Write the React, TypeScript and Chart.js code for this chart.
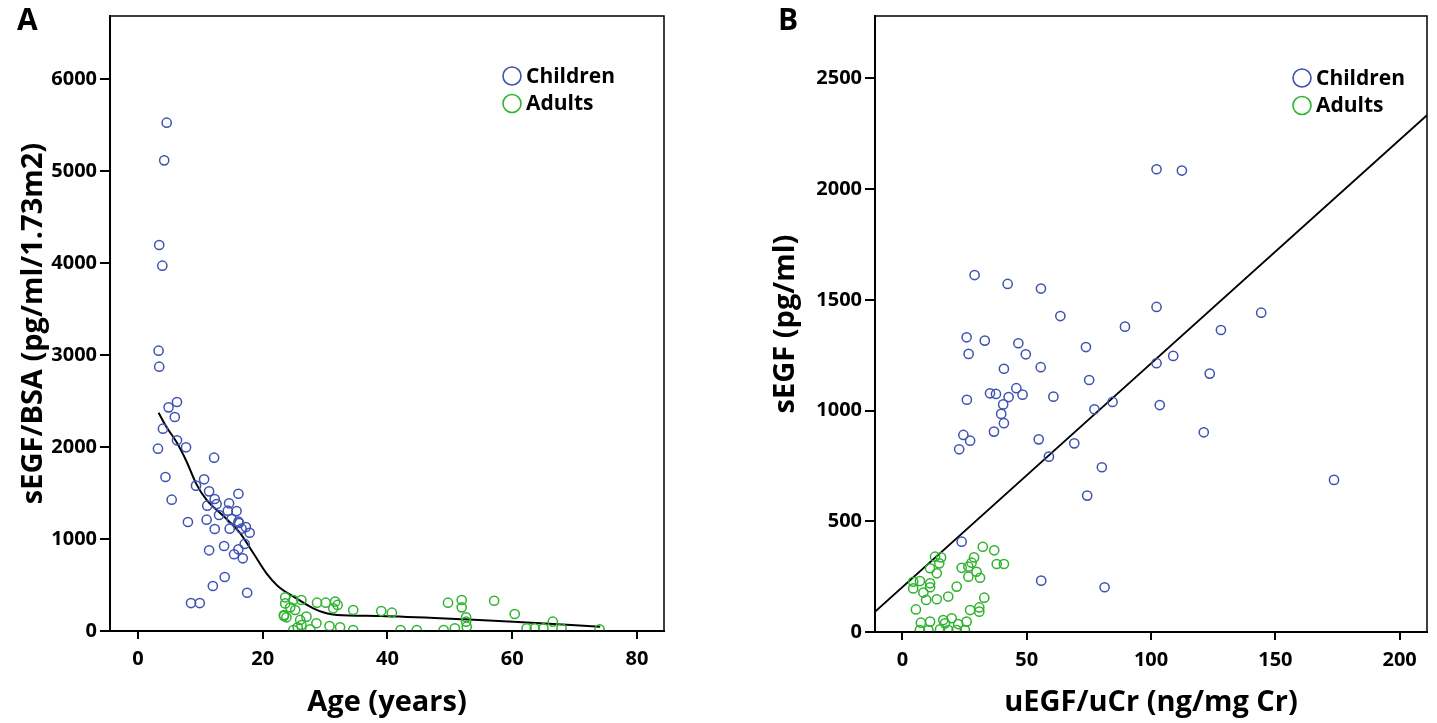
import React, { useEffect, useRef } from "react";
import { Chart, registerables } from "chart.js";

Chart.register(...registerables);

// ---------- Panel A data ----------
const childAge = [4.6, 4.2, 3.4, 3.9, 3.3, 3.4, 6.25, 4.9, 5.9, 4.0, 6.25, 7.7, 3.2, 12.2, 4.4, 10.6, 9.3, 11.4, 16.1, 12.3, 5.4, 11.1, 12.6, 14.6, 14.4, 15.8, 13.0, 15.0, 8.0, 11.0, 16.1, 17.3, 17.9, 16.6, 14.7, 12.3, 16.2, 13.8, 17.1, 11.4, 16.1, 15.4, 16.8, 13.9, 12.0, 17.5, 8.5, 9.9];
const childSEGFBSA = [5525, 5116, 4196, 3971, 3047, 2873, 2489, 2431, 2326, 2199, 2073, 1997, 1982, 1884, 1674, 1649, 1580, 1518, 1492, 1435, 1427, 1362, 1380, 1388, 1308, 1304, 1261, 1217, 1185, 1210, 1188, 1130, 1068, 1112, 1112, 1109, 1174, 924, 946, 877, 888, 834, 790, 587, 489, 416, 304, 304];
const adultAge = [23.6, 24.9, 26.2, 23.6, 24.4, 25.2, 23.4, 23.8, 26.0, 27.0, 28.6, 26.2, 24.9, 27.6, 28.7, 30.1, 31.6, 32.0, 31.3, 30.7, 32.4, 34.5, 34.5, 39.0, 40.7, 42.1, 44.7, 49.0, 50.8, 49.7, 51.9, 51.9, 52.6, 52.6, 52.7, 57.1, 60.4, 62.3, 63.6, 65.0, 66.5, 67.9, 74.0, 23.4, 25.6];
const adultSEGFBSA = [366, 337, 337, 300, 257, 228, 174, 149, 120, 156, 84, 65, 11, 18, 308, 308, 319, 283, 247, 54, 40, 11, 228, 217, 199, 11, 11, 11, 29, 308, 337, 257, 149, 101, 47, 329, 185, 29, 29, 29, 101, 29, 18, 163, 40];
const fitAge = [3.3, 4.6, 6.2, 7.8, 9.3, 11.0, 13.7, 16.4, 18.5, 20.6, 22.4, 25.4, 28.1, 30.2, 31.9, 38.8, 52.2, 60.2, 74.1];
const fitSEGFBSA = [2373, 2214, 2051, 1840, 1605, 1424, 1250, 1062, 845, 627, 490, 355, 247, 192, 174, 163, 127, 101, 47];
const ageTicks = [0, 20, 40, 60, 80];
const segfBsaTicks = [0, 1000, 2000, 3000, 4000, 5000, 6000];

// ---------- Panel B data ----------
const childUEGF = [29.0, 42.3, 55.7, 63.5, 102.2, 89.5, 25.8, 33.1, 46.6, 26.6, 49.6, 73.8, 40.8, 55.6, 102.2, 75.1, 25.9, 35.2, 37.6, 45.8, 42.7, 48.3, 40.5, 60.7, 39.7, 40.8, 36.8, 77.2, 84.5, 103.5, 24.5, 27.2, 22.8, 54.8, 69.1, 58.9, 80.2, 74.3, 102.2, 112.4, 144.3, 128.1, 108.9, 123.6, 121.2, 173.6, 55.8, 81.3, 23.8];
const childSEGF = [1612, 1572, 1551, 1427, 1468, 1379, 1331, 1316, 1304, 1256, 1254, 1287, 1189, 1196, 1214, 1138, 1049, 1078, 1075, 1101, 1061, 1072, 1028, 1063, 985, 943, 905, 1006, 1039, 1025, 890, 864, 825, 870, 852, 792, 744, 616, 2090, 2084, 1442, 1364, 1247, 1167, 902, 687, 232, 202, 408];
const adultUEGF = [32.3, 36.9, 37.9, 40.8, 28.8, 27.8, 26.5, 23.8, 29.8, 31.2, 26.5, 21.8, 13.1, 15.5, 14.8, 11.1, 13.8, 7.0, 4.3, 11.1, 4.3, 11.1, 8.4, 9.5, 13.8, 18.4, 5.4, 32.9, 30.9, 27.2, 30.9, 7.4, 11.1, 16.4, 19.8, 22.4, 25.8, 7.0, 15.1, 18.4, 21.8, 25.1, 10.4, 17.1];
const adultSEGF = [385, 369, 307, 307, 337, 313, 295, 290, 272, 245, 250, 205, 340, 337, 310, 288, 265, 230, 227, 220, 197, 202, 178, 145, 148, 160, 102, 155, 111, 99, 92, 42, 47, 54, 62, 36, 47, 9, 12, 9, 9, 9, 9, 39];
const regUEGF = [-11, 211];
const regSEGF = [92, 2334];
const uegfTicks = [0, 50, 100, 150, 200];
const segfTicks = [0, 500, 1000, 1500, 2000, 2500];

const BLUE = "#3e52b2";
const GREEN = "#2fb32f";
const FONT = "'Open Sans', 'DejaVu Sans', sans-serif";

const toPts = (xs: number[], ys: number[]) => xs.map((x, i) => ({ x, y: ys[i] }));

const frameAndLegend = {
  id: "frameAndLegend",
  afterDraw(chart: any) {
    const { ctx, chartArea } = chart;
    const o = chart.options.plugins.frameAndLegend;
    ctx.save();
    ctx.strokeStyle = "#000";
    ctx.lineWidth = 1.5;
    ctx.strokeRect(chartArea.left, chartArea.top, chartArea.right - chartArea.left, chartArea.bottom - chartArea.top);
    const items = chart.data.datasets.filter((d: any) => d.legend);
    items.forEach((d: any, i: number) => {
      const cx = chartArea.right - o.legendRight;
      const cy = chartArea.top + o.legendTop + i * 27.5;
      ctx.beginPath();
      ctx.strokeStyle = d.borderColor;
      ctx.lineWidth = 1.6;
      ctx.arc(cx, cy, 9, 0, Math.PI * 2);
      ctx.stroke();
      ctx.fillStyle = "#000";
      ctx.font = `bold 21px ${FONT}`;
      ctx.textBaseline = "middle";
      ctx.textAlign = "left";
      ctx.fillText(d.label, cx + 14, cy + 1);
    });
    ctx.font = `bold 30px ${FONT}`;
    ctx.textBaseline = "alphabetic";
    ctx.fillStyle = "#000";
    ctx.fillText(o.letter, o.letterX, 30);
    ctx.restore();
  },
};

function makeScales(p: any) {
  const tickFont = { family: FONT, size: 20, weight: "bold" as const };
  const titleFont = { family: FONT, size: 29, weight: "bold" as const, lineHeight: 1.2 };
  return {
    x: {
      type: "linear" as const,
      min: p.xMin,
      max: p.xMax,
      afterFit: (s: any) => { s.height = p.xAxisH; },
      afterBuildTicks: (s: any) => { s.ticks = p.xTicks.map((v: number) => ({ value: v })); },
      border: { display: true, color: "#000", width: 2 },
      grid: { drawOnChartArea: false, drawTicks: true, tickLength: 8, color: "#000", lineWidth: 2 },
      ticks: { color: "#000", font: tickFont, padding: 8, maxRotation: 0, autoSkip: false, callback: (v: any) => String(v) },
      title: { display: true, text: p.xTitle, color: "#000", font: titleFont, padding: { top: 0, bottom: 3 }, align: "center" as const },
    },
    y: {
      type: "linear" as const,
      min: 0,
      max: p.yMax,
      afterFit: (s: any) => { s.width = p.yAxisW; },
      afterBuildTicks: (s: any) => { s.ticks = p.yTicks.map((v: number) => ({ value: v })); },
      border: { display: true, color: "#000", width: 2 },
      grid: { drawOnChartArea: false, drawTicks: true, tickLength: 10, color: "#000", lineWidth: 2 },
      ticks: { color: "#000", font: tickFont, padding: 3, autoSkip: false, callback: (v: any) => String(v) },
      title: { display: true, text: p.yTitle, color: "#000", font: titleFont, padding: { top: p.yTitlePad, bottom: 0 } },
    },
  };
}

function scatterDs(label: string, xs: number[], ys: number[], color: string) {
  return {
    type: "scatter" as const,
    label,
    legend: true,
    data: toPts(xs, ys),
    borderColor: color,
    backgroundColor: "rgba(0,0,0,0)",
    pointRadius: 4.6,
    pointBorderWidth: 1.5,
    pointStyle: "circle",
  };
}

function lineDs(xs: number[], ys: number[], tension: number) {
  return {
    type: "line" as const,
    label: "fit",
    legend: false,
    data: toPts(xs, ys),
    borderColor: "#000",
    borderWidth: 2,
    pointRadius: 0,
    fill: false,
    tension,
    cubicInterpolationMode: "monotone" as const,
    showLine: true,
  };
}

function Panel(props: { left: number; width: number; build: () => any }) {
  const ref = useRef<HTMLCanvasElement | null>(null);
  useEffect(() => {
    if (!ref.current) return;
    const chart = new Chart(ref.current, props.build());
    return () => chart.destroy();
  }, []);
  return (
    <canvas
      ref={ref}
      width={props.width}
      height={723}
      style={{ position: "absolute", left: props.left, top: 0, width: props.width, height: 723 }}
    />
  );
}

const buildA = () => ({
  type: "scatter",
  data: {
    datasets: [
      scatterDs("Children", childAge, childSEGFBSA, BLUE),
      scatterDs("Adults", adultAge, adultSEGFBSA, GREEN),
      lineDs(fitAge, fitSEGFBSA, 0.4),
    ],
  },
  options: {
    responsive: false,
    animation: false,
    devicePixelRatio: 1,
    layout: { padding: { left: 0, top: 16, right: 54, bottom: 0 } },
    plugins: {
      legend: { display: false },
      tooltip: { enabled: false },
      frameAndLegend: { legendRight: 152, legendTop: 60, letter: "A", letterX: 17 },
    },
    scales: makeScales({ xMin: -4.49, xMax: 84.33, xTicks: ageTicks, yMax: 6685, yTicks: segfBsaTicks, xAxisH: 92, yAxisW: 110, xTitle: "Age (years)", yTitle: "sEGF/BSA (pg/ml/1.73m2)", yTitlePad: 16 }),
  },
  plugins: [frameAndLegend],
});

const buildB = () => ({
  type: "scatter",
  data: {
    datasets: [
      scatterDs("Children", childUEGF, childSEGF, BLUE),
      scatterDs("Adults", adultUEGF, adultSEGF, GREEN),
      lineDs(regUEGF, regSEGF, 0),
    ],
  },
  options: {
    responsive: false,
    animation: false,
    devicePixelRatio: 1,
    layout: { padding: { left: 0, top: 16, right: 10, bottom: 0 } },
    plugins: {
      legend: { display: false },
      tooltip: { enabled: false },
      frameAndLegend: { legendRight: 125, legendTop: 62, letter: "B", letterX: 60 },
    },
    scales: makeScales({ xMin: -11.06, xMax: 211, xTicks: uegfTicks, yMax: 2782, yTicks: segfTicks, xAxisH: 91, yAxisW: 157, xTitle: "uEGF/uCr (ng/mg Cr)", yTitle: "sEGF (pg/ml)", yTitlePad: 50 }),
  },
  plugins: [frameAndLegend],
});

export default function App() {
  return (
    <div style={{ position: "absolute", left: 0, top: 0, width: 1437, height: 723, background: "#fff", overflow: "hidden" }}>
      <Panel left={0} width={718} build={buildA} />
      <Panel left={718} width={719} build={buildB} />
    </div>
  );
}
